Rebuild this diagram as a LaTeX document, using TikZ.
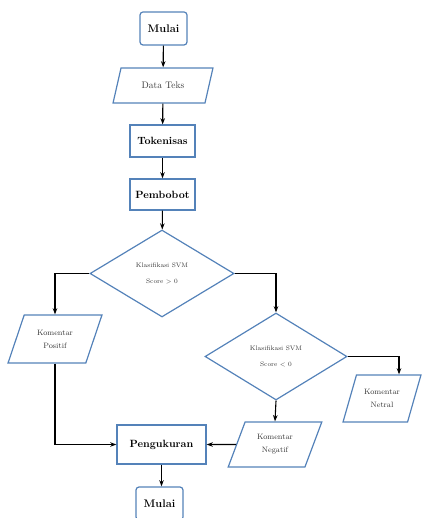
\documentclass[tikz,border=0pt]{standalone}
\usepackage{xcolor}
\usepackage{tikz}
\usetikzlibrary{arrows.meta,positioning,shapes.geometric}
\definecolor{flowblue}{RGB}{84,130,185}
\definecolor{labelgray}{RGB}{55,55,55}

\begin{document}
\begin{tikzpicture}[
    x=1pt, y=-1pt,
    terminal/.style={rectangle, rounded corners=3pt, draw=flowblue, line width=1.2pt, minimum width=47pt, minimum height=33pt, inner sep=2pt, font=\fontsize{11}{13}\selectfont\bfseries},
    process/.style={rectangle, draw=flowblue, line width=1.2pt, minimum width=65pt, minimum height=32pt, inner sep=2pt, font=\fontsize{10.5}{13}\selectfont\bfseries},
    iobox/.style={trapezium, trapezium left angle=64, trapezium right angle=116, trapezium stretches=true, draw=flowblue, line width=1.2pt, inner sep=1pt, align=center, text=labelgray, font=\fontsize{7.8}{13}\selectfont},
    decision/.style={diamond, draw=flowblue, line width=1.2pt, minimum width=144pt, minimum height=87pt, inner sep=0pt, align=center, text=labelgray, font=\fontsize{6.5}{16}\selectfont},
    arrow/.style={-{Stealth[length=2.2mm, width=1.6mm]}, draw=black, line width=1.1pt}
]
\useasboundingbox (0,0) rectangle (431,518);
\clip (0,0) rectangle (431,518);

% main column
\node[terminal] (mulai) at (163.5,28.5) {Mulai};
\node[iobox, minimum width=100pt, minimum height=35pt, font=\fontsize{9.5}{11}\selectfont] (data) at (163,85.5) {Data Teks};
\node[process] (token) at (162.5,141) {Tokenisas};
\node[process, minimum height=31pt] (bobot) at (162.5,194.5) {Pembobot};
\node[decision] (svm1) at (162,273.5) {Klasifikasi SVM\\Score $>$ 0};

% branches
\node[iobox, minimum width=94pt, minimum height=48pt] (positif) at (55,339) {Komentar\\Positif};
\node[decision, minimum width=142pt] (svm2) at (276,356.5) {Klasifikasi SVM\\Score $<$ 0};
\node[iobox, minimum width=78pt, minimum height=47pt] (netral) at (382,398.5) {Komentar\\Netral};
\node[iobox, minimum width=94pt, minimum height=45pt] (negatif) at (275,444.5) {Komentar\\Negatif};
\node[process, minimum width=89pt, minimum height=39pt] (ukur) at (161.5,444.5) {Pengukuran};
\node[terminal] (selesai) at (159.5,503.5) {Mulai};

\draw[arrow] (mulai) -- (data);
\draw[arrow] (data) -- (token);
\draw[arrow] (token) -- (bobot);
\draw[arrow] (bobot) -- (svm1);
\draw[arrow] (svm1.west) -| (positif.north);
\draw[arrow] (svm1.east) -| (svm2.north);
\draw[arrow] (svm2.east) -| ([xshift=17pt]netral.north);
\draw[arrow] (svm2.south) -- (negatif.north);
\draw[arrow] (positif.south) |- (ukur.west);
\draw[arrow] (negatif.west) -- (ukur.east);
\draw[arrow] (ukur.south) -- (ukur.south |- selesai.north);
\end{tikzpicture}
\end{document}
